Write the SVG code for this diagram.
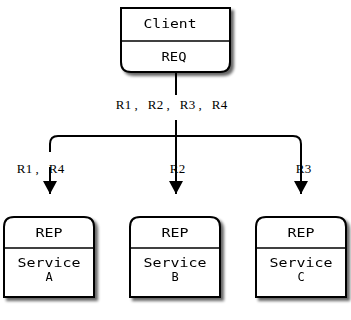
<svg xmlns="http://www.w3.org/2000/svg" width="351" height="320" viewBox="0 0 351 320">
  <defs>
    <filter id="shadow" x="-20%" y="-20%" width="150%" height="150%">
      <feGaussianBlur in="SourceAlpha" stdDeviation="1.8"/>
      <feOffset dx="3" dy="3" result="blur"/>
      <feComponentTransfer><feFuncA type="linear" slope="0.6"/></feComponentTransfer>
      <feMerge><feMergeNode/><feMergeNode in="SourceGraphic"/></feMerge>
    </filter>
    <marker id="arrow" markerWidth="14" markerHeight="14" refX="13" refY="7" orient="auto" markerUnits="userSpaceOnUse">
      <path d="M0,0 L13,7 L0,14 Z" fill="#000"/>
    </marker>
  </defs>
  <style>
    .box { fill: #fff; stroke: #000; stroke-width: 2; }
    .div { stroke: #000; stroke-width: 1.5; }
    .node { font-family: "DejaVu Sans Mono", monospace; font-size: 12px; fill: #000; text-anchor: middle; }
    .edge { fill: none; stroke: #000; stroke-width: 2; }
    .lbl { font-family: "Liberation Serif", "Times New Roman", serif; font-size: 13px; fill: #000; text-anchor: middle; }
  </style>

  <rect width="351" height="320" fill="#fff"/>

  <!-- connectors -->
  <g id="connectors">
    <path class="edge" d="M176,72 V95"/>
    <path class="edge" d="M176,120 V194" marker-end="url(#arrow)"/>
    <path class="edge" d="M50,152 V144 Q50,136 58,136 H293 Q301,136 301,144 V194" marker-end="url(#arrow)"/>
    <path class="edge" d="M50,167 V194" marker-end="url(#arrow)"/>
    <!-- labels laid out on a fixed 8px character pitch -->
    <text class="lbl" x="120 128 136 144 152 160 168 176 184 192 200 208 216 224" y="109">R1, R2, R3, R4</text>
    <text class="lbl" x="21 29 37 45 53 61" y="173">R1, R4</text>
    <text class="lbl" x="174 182" y="173">R2</text>
    <text class="lbl" x="300 308" y="173">R3</text>
  </g>

  <!-- client: request socket -->
  <g id="client" filter="url(#shadow)">
    <path class="box" d="M121,8 H230 V62 Q230,72 220,72 H131 Q121,72 121,62 Z"/>
    <line class="div" x1="121" y1="41" x2="230" y2="41"/>
    <text class="node" x="170" y="28" textLength="53" lengthAdjust="spacingAndGlyphs">Client</text>
    <text class="node" x="174" y="61" textLength="25" lengthAdjust="spacingAndGlyphs">REQ</text>
  </g>

  <!-- service A -->
  <g id="service-a" filter="url(#shadow)">
    <path class="box" d="M4,297 V227 Q4,217 14,217 H84 Q94,217 94,227 V297 Z"/>
    <line class="div" x1="4" y1="248" x2="94" y2="248"/>
    <text class="node" x="49" y="237" textLength="27" lengthAdjust="spacingAndGlyphs">REP</text>
    <text class="node" x="49" y="267" textLength="63" lengthAdjust="spacingAndGlyphs">Service</text>
    <text class="node" x="49" y="281">A</text>
  </g>

  <!-- service B -->
  <g id="service-b" filter="url(#shadow)">
    <path class="box" d="M130,297 V227 Q130,217 140,217 H210 Q220,217 220,227 V297 Z"/>
    <line class="div" x1="130" y1="248" x2="220" y2="248"/>
    <text class="node" x="175" y="237" textLength="27" lengthAdjust="spacingAndGlyphs">REP</text>
    <text class="node" x="175" y="267" textLength="63" lengthAdjust="spacingAndGlyphs">Service</text>
    <text class="node" x="175" y="281">B</text>
  </g>

  <!-- service C -->
  <g id="service-c" filter="url(#shadow)">
    <path class="box" d="M256,297 V227 Q256,217 266,217 H336 Q346,217 346,227 V297 Z"/>
    <line class="div" x1="256" y1="248" x2="346" y2="248"/>
    <text class="node" x="301" y="237" textLength="27" lengthAdjust="spacingAndGlyphs">REP</text>
    <text class="node" x="301" y="267" textLength="63" lengthAdjust="spacingAndGlyphs">Service</text>
    <text class="node" x="301" y="281">C</text>
  </g>
</svg>
